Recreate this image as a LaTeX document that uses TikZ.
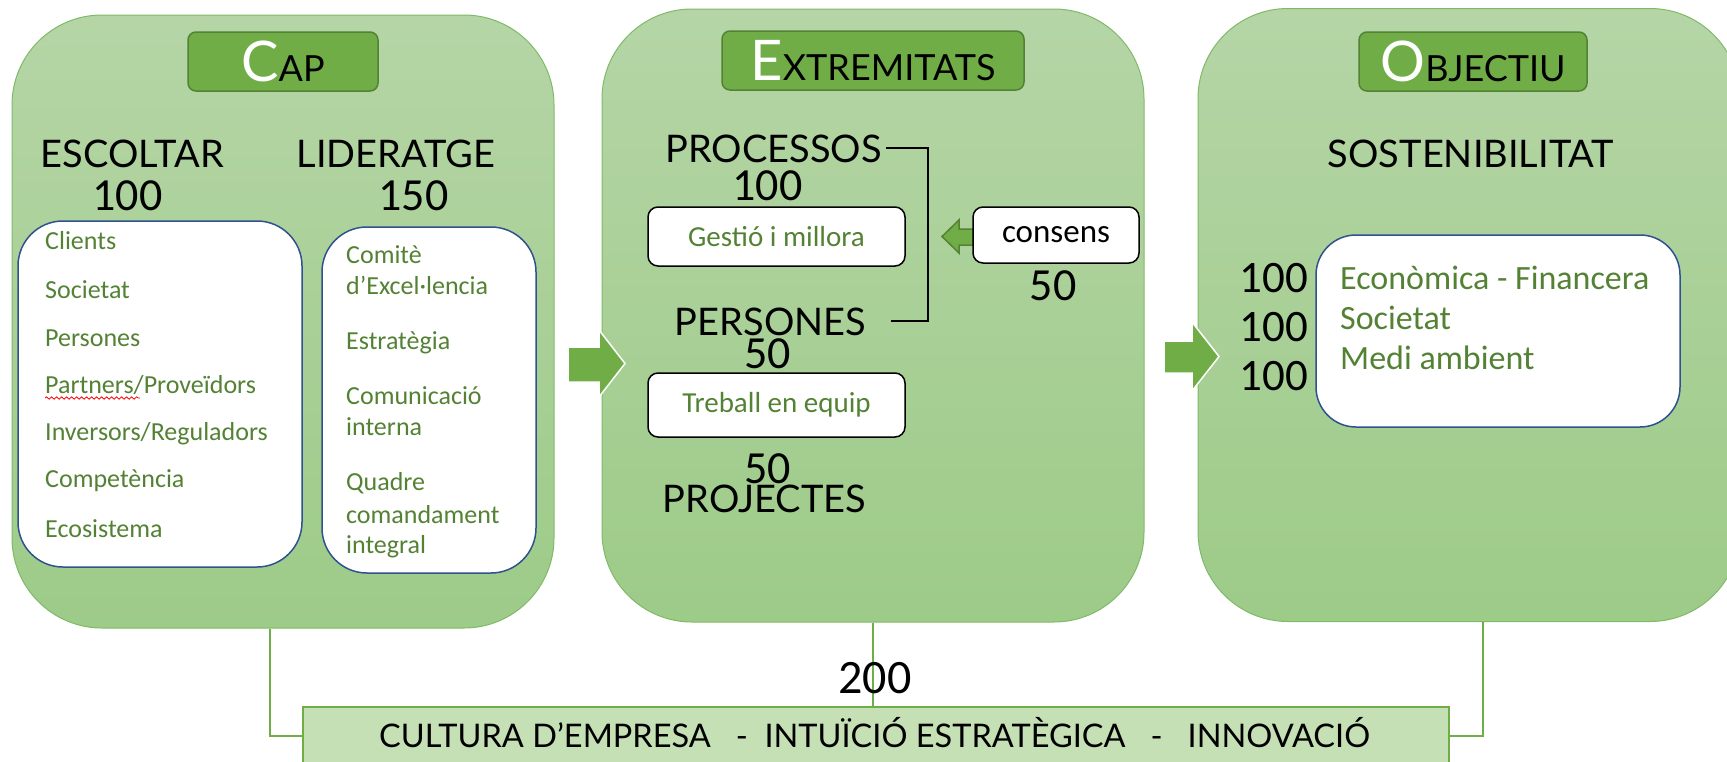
\documentclass[tikz,border=0pt]{standalone}
\usepackage{fontspec}
\setmainfont{Lato}
\newfontfamily\calfont{Carlito}
\usetikzlibrary{decorations.pathmorphing}

\definecolor{panelTop}{RGB}{181,213,166}
\definecolor{panelBot}{RGB}{157,203,136}
\definecolor{panelLine}{RGB}{128,186,104}
\definecolor{accent}{RGB}{112,173,71}
\definecolor{accentDark}{RGB}{84,130,53}
\definecolor{itemGreen}{RGB}{84,130,53}
\definecolor{boxBlue}{RGB}{47,82,143}
\definecolor{barFill}{RGB}{197,224,180}

\newcommand\paneltitle[2]{{\color{white}\fontsize{56}{56}\selectfont #1}{\fontsize{36}{36}\selectfont #2}}

\begin{document}
\begin{tikzpicture}[x=1pt,y=-1pt,
    panel/.style={draw=panelLine,line width=1pt,rounded corners=90pt,
                  top color=panelTop,bottom color=panelBot,
                  minimum width=542pt,minimum height=613pt,inner sep=0pt},
    title/.style={draw=accentDark,line width=1.5pt,fill=accent,rounded corners=8pt,
                  inner sep=0pt,minimum height=59pt},
    heading/.style={anchor=base,inner sep=0pt,font=\fontsize{38}{38}\selectfont},
    num/.style={anchor=base,inner sep=0pt,font=\calfont\fontsize{46}{46}\selectfont},
    list/.style={draw=boxBlue,line width=1.5pt,fill=white,rounded corners=45pt,inner sep=0pt},
    item/.style={anchor=base west,inner sep=0pt,text=itemGreen,font=\calfont\fontsize{26}{26}\selectfont},
    bigitem/.style={item,font=\calfont\fontsize{34}{34}\selectfont},
    tag/.style={draw=black,line width=1.5pt,fill=white,rounded corners=10pt,inner sep=0pt,
                minimum width=257pt,text=itemGreen,font=\calfont\fontsize{29}{29}\selectfont},
    link/.style={draw=accent,line width=2pt},
    blockarrow/.style={fill=accent,draw=white,line width=1.5pt}]
\useasboundingbox (0,0) rectangle (1727,761);
\clip (0,0) rectangle (1727,761);

\node[panel] (capP) at ( 283,321.5) {};
\node[panel] (extP) at ( 873,315.5) {};
\node[panel] (objP) at (1469,315  ) {};

\path[blockarrow]
      ( 568,347) -- ++(31,0) -- ++(0,-17) -- (625,363.5) -- (599,397) -- ++(0,-15) -- (568,382) -- cycle;
\path[blockarrow]
      (1164,341) -- ++(28,0) -- ++(0,-19) -- (1219,356.5) -- (1192,391) -- ++(0,-18) -- (1164,373) -- cycle;

\node[title,minimum width=190pt] (capT) at ( 283,61.5) {\paneltitle{C}{AP}};
\node[title,minimum width=302pt] (extT) at ( 873,60.5) {\paneltitle{E}{XTREMITATS}};
\node[title,minimum width=228pt] (objT) at (1473,61.5) {\paneltitle{O}{BJECTIU}};

\path
      ( 132.5,167) node [heading] (escoltar)  {ESCOLTAR}
      ( 396  ,167) node [heading] (lideratge) {LIDERATGE}
      ( 127.5,210) node [num]     (escN)      {100}
      ( 413.5,210) node [num]     (lidN)      {150};

\node[list,minimum width=284pt,minimum height=346pt] (escL) at (160,394) {};
\node[list,minimum width=214pt,minimum height=346pt] (lidL) at (429,400) {};

\path
      (  45,249) node [item] (cli)  {Clients}
    ++(   0, 49) node [item] (soc)  {Societat}
    ++(   0, 48) node [item] (pers) {Persones}
    ++(   0, 47) node [item] (part) {Partners/Proveïdors}
    ++(   0, 47) node [item] (inv)  {Inversors/Reguladors}
    ++(   0, 47) node [item] (comp) {Competència}
    ++(   0, 50) node [item] (eco)  {Ecosistema};
\draw[red,line width=.8pt,decorate,decoration={snake,amplitude=1.2pt,segment length=5pt}]
      ([yshift=-5pt]part.base west) -- ++(95,0);

\path
      ( 346,263) node [item] (comi)  {Comitè}
    ++(   0, 31) node [item] (exc)   {d’Excel·lencia}
    ++(   0, 55) node [item] (estr)  {Estratègia}
    ++(   0, 55) node [item] (comu)  {Comunicació}
    ++(   0, 31) node [item] (inter) {interna}
    ++(   0, 55) node [item] (quad)  {Quadre}
    ++(   0, 33) node [item] (coma)  {comandament}
    ++(   0, 30) node [item] (integ) {integral};

\path
      ( 773.5,162) node [heading] (proc)  {PROCESSOS}
      ( 767.5,200) node [num]     (procN) {100}
      ( 770.5,335) node [heading] (pers2) {PERSONES}
      ( 767.5,368) node [num]     (persN) {50}
      ( 767.5,483) node [num]     (projN) {50}
      ( 764.5,512) node [heading] (proj)  {PROJECTES}
      (1053  ,300) node [num]     (consN) {50};

\node[tag,minimum height=59pt] (gest) at (776.5,236.5) {Gestió i millora};
\node[tag,minimum height=64pt] (treb) at (776.5,405  ) {Treball en equip};

\draw[line width=2pt]
      ([xshift=4pt]proc.east) -- ++(42,0) |- ([xshift=25pt]pers2.east);

\path[fill=accent,draw=accentDark,line width=1.5pt]
      ( 973,229) -- (959,229) -- (959,220) -- (942,236.5) -- (959,253) -- (959,245) -- (973,245) -- cycle;
\node[tag,minimum width=166pt,minimum height=56pt,text=black,font=\calfont\fontsize{33}{33}\selectfont]
      (cons) at (1056,235) {consens};

\path
      (1471,167) node [heading] (sost) {SOSTENIBILITAT};
\node[list,rounded corners=40pt,minimum width=364pt,minimum height=192pt] (sostL) at (1498,331) {};
\path
      (1274,292) node [num,font=\calfont\fontsize{45}{45}\selectfont] (ecoN) {100}
    ++(   0, 49) node [num,font=\calfont\fontsize{45}{45}\selectfont] (socN) {100}
    ++(   0, 49) node [num,font=\calfont\fontsize{45}{45}\selectfont] (medN) {100};
\path
      (1340,289) node [bigitem] (econ) {Econòmica - Financera}
    ++(   0, 40) node [bigitem] (soc3) {Societat}
    ++(   0, 40) node [bigitem] (medi) {Medi ambient};

\node[draw=accent,line width=1.5pt,fill=barFill,minimum width=1146pt,minimum height=73pt]
      (cult) at (876,743.5) {};
\draw[link] ([xshift=-13pt]capP.south) |- ([yshift=7.5pt]cult.west);
\draw[link] (extP.south) -- (extP.south |- cult.north);
\draw[link] ([xshift=14pt]objP.south) |- ([yshift=7.5pt]cult.east);
\path
      ( 874.5,747) node [heading,font=\fontsize{32.5}{32.5}\selectfont] (cultT)
                        {CULTURA D’EMPRESA~~~-~~INTUÏCIÓ ESTRATÈGICA~~~-~~~INNOVACIÓ}
      ( 875  ,693) node [num,font=\calfont\fontsize{48}{48}\selectfont] (cultN) {200};
\end{tikzpicture}
\end{document}
